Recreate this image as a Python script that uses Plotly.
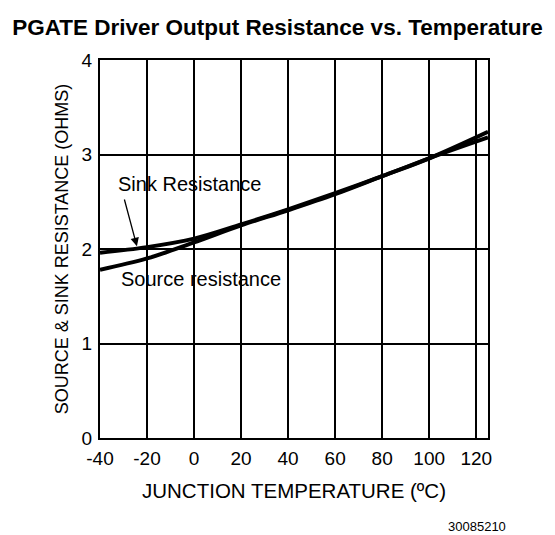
import plotly.graph_objects as go

# junction temperature (degC)
temp = [-40, -20, 0, 20, 40, 60, 80, 100, 125]
# resistance (ohms)
sink_res = [1.96, 2.02, 2.11, 2.26, 2.42, 2.59, 2.77, 2.96, 3.18]
source_res = [1.78, 1.90, 2.07, 2.25, 2.41, 2.58, 2.77, 2.96, 3.24]

x_ticks = [-40, -20, 0, 20, 40, 60, 80, 100, 120]
x_tick_text = ["-40", "-20", "0", "20", "40", "60", "80", "100", "120"]
y_ticks = [0, 1, 2, 3, 4]

FONT = "Liberation Sans, Arial, Helvetica, sans-serif"

fig = go.Figure()

fig.add_trace(go.Scatter(
    x=temp, y=sink_res, mode="lines",
    line=dict(color="black", width=4, shape="spline"),
    name="Sink Resistance"
))
fig.add_trace(go.Scatter(
    x=temp, y=source_res, mode="lines",
    line=dict(color="black", width=4, shape="spline"),
    name="Source resistance"
))

# curve labels
fig.add_annotation(x=-2, y=2.69, text="Sink Resistance", showarrow=False,
                   font=dict(size=20, color="black", family=FONT))
fig.add_annotation(x=3, y=1.68, text="Source resistance", showarrow=False,
                   font=dict(size=20, color="black", family=FONT))
# arrow pointing at the sink curve
fig.add_annotation(x=-24.3, y=2.03, ax=-29.8, ay=2.54, axref="x", ayref="y",
                   text="", showarrow=True, arrowhead=2, arrowsize=1.3,
                   arrowwidth=1.3, arrowcolor="black")

# part number tag (paper coords of the plot box 100..488 x 60..438 px)
fig.add_annotation(x=(477 - 100) / 388, y=(438 - 526) / 378, xref="paper", yref="paper",
                   text="30085210", showarrow=False, xanchor="center", yanchor="middle",
                   font=dict(size=13, color="black", family=FONT))

fig.update_layout(
    width=555, height=535,
    margin=dict(l=100, r=67, t=60, b=97),
    plot_bgcolor="white", paper_bgcolor="white",
    showlegend=False,
    font=dict(family=FONT, color="black"),
    title=dict(text="<b>PGATE Driver Output Resistance vs. Temperature</b>",
               x=0.5, xref="container", xanchor="center",
               y=1 - 27 / 535, yref="container", yanchor="middle",
               font=dict(size=22.5, color="black", family=FONT)),
    xaxis=dict(
        range=[-40, 125], tickvals=x_ticks, ticktext=x_tick_text, showgrid=True,
        gridcolor="black", gridwidth=1.5, zeroline=False,
        showline=True, linecolor="black", linewidth=2, mirror=True,
        ticks="", tickfont=dict(size=19), ticklabelstandoff=2,
        title=dict(text="JUNCTION TEMPERATURE (ºC)", font=dict(size=20.5), standoff=16),
    ),
    yaxis=dict(
        range=[0, 4], tickvals=y_ticks, showgrid=True,
        gridcolor="black", gridwidth=1.5, zeroline=False,
        showline=True, linecolor="black", linewidth=2, mirror=True,
        ticks="", tickfont=dict(size=19), ticklabelstandoff=2,
        title=dict(text="SOURCE & SINK RESISTANCE (OHMS)", font=dict(size=18), standoff=8),
    ),
)

fig.write_html("out.html", config={"displayModeBar": False},
               post_script="document.body.style.margin='0';")
